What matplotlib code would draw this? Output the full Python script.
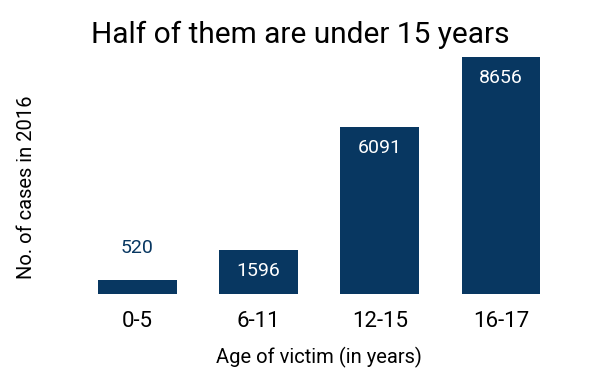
import numpy as np
import matplotlib
matplotlib.use("Agg")
import matplotlib.pyplot as plt

plt.rcParams['font.family'] = ['Roboto', 'DejaVu Sans']

ages = ['0-5', '6-11', '12-15', '16-17']
cases = [520, 1596, 6091, 8656]

navy = '#083761'

fig = plt.figure(figsize=(6, 3.71), dpi=100)
ax = fig.add_axes([0.128, 0.2075, 0.808, 0.664])
x = np.arange(len(ages))
bars = ax.bar(x, cases, width=0.65, color=navy)

for xi, v in zip(x, cases):
    if v < 1000:
        ax.text(xi, v + 850, str(v), ha='center', va='bottom', color=navy, fontsize=14)
    else:
        ax.text(xi, v - 420, str(v), ha='center', va='top', color='white', fontsize=14)

ax.set_xlim(-0.5, 3.5)
ax.set_ylim(0, 9000)
ax.set_xticks(x)
ax.set_xticklabels(ages, fontsize=16)
ax.set_yticks([])
ax.tick_params(axis='x', length=0, pad=12)
for s in ax.spines.values():
    s.set_visible(False)

ax.set_xlabel('Age of victim (in years)', fontsize=14.5, labelpad=11)
ax.set_ylabel('No. of cases in 2016', fontsize=14.5)
ax.yaxis.set_label_coords(-0.085, 0.434)
fig.suptitle('Half of them are under 15 years', fontsize=21.5, y=0.945)

fig.savefig('out.png', dpi=100)
